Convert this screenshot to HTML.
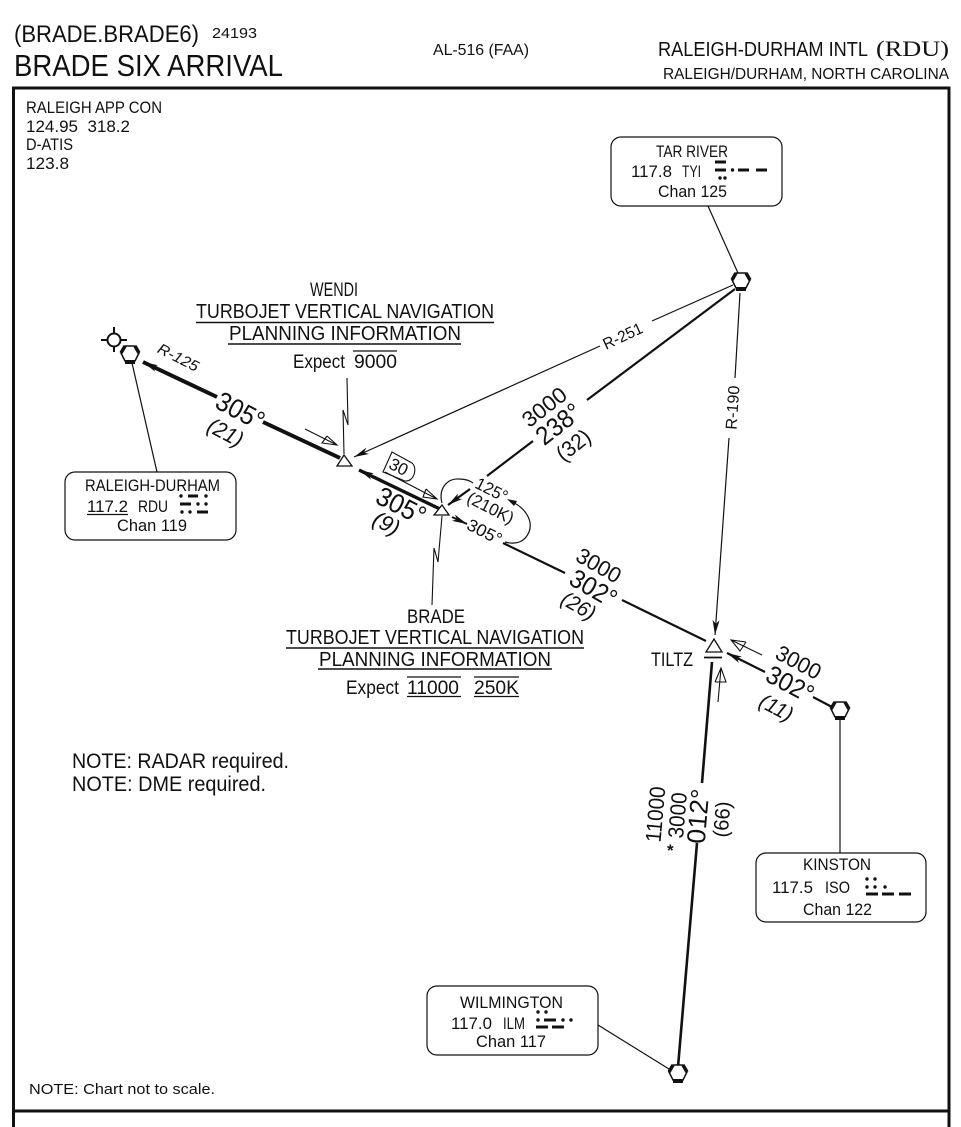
<!DOCTYPE html>
<html lang="en">
<head>
<meta charset="utf-8">
<title>BRADE SIX ARRIVAL</title>
<style>
html,body{margin:0;padding:0;background:#fff}
svg{display:block}
text{font-family:"Liberation Sans",sans-serif;fill:#111}
.l{stroke:#111;fill:none}
.m{text-anchor:middle}
</style>
</head>
<body>
<svg width="961" height="1127" viewBox="0 0 961 1127" xmlns="http://www.w3.org/2000/svg">
<defs>
<marker id="a" markerUnits="userSpaceOnUse" markerWidth="18" markerHeight="10" refX="15" refY="4" orient="auto">
<path d="M15,4 L0,0.5 L4,4 L0,7.5 Z" fill="#111"/>
</marker>
<g id="vor">
<path d="M-5,-8 L5,-8 L9,-1 L5,7 L-5,7 L-9,-1 Z" fill="#fff" stroke="#111" stroke-width="1.5"/>
<path d="M-5,-8 L-9,-1 M5,-8 L9,-1" stroke="#111" stroke-width="3.5" fill="none"/>
<path d="M-5,8 L5,8" stroke="#111" stroke-width="4" fill="none"/>
</g>
</defs>
<rect width="961" height="1127" fill="#fff"/>

<!-- Header -->
<text x="14" y="42" font-size="24" textLength="185" lengthAdjust="spacingAndGlyphs">(BRADE.BRADE6)</text>
<text x="212" y="38" font-size="15" textLength="45" lengthAdjust="spacingAndGlyphs">24193</text>
<text x="14" y="76" font-size="31" textLength="269" lengthAdjust="spacingAndGlyphs">BRADE SIX ARRIVAL</text>
<text x="433" y="55" font-size="16" textLength="96" lengthAdjust="spacingAndGlyphs">AL-516 (FAA)</text>
<text x="658" y="56" font-size="20" textLength="210" lengthAdjust="spacingAndGlyphs">RALEIGH-DURHAM INTL</text>
<text x="876" y="56" font-size="22" textLength="73" lengthAdjust="spacingAndGlyphs" style="font-family:'Liberation Serif',serif">(RDU)</text>
<text x="663" y="79" font-size="16" textLength="286" lengthAdjust="spacingAndGlyphs">RALEIGH/DURHAM, NORTH CAROLINA</text>

<!-- Frame -->
<path class="l" stroke-width="3" d="M13.5,1127 L13.5,88 L949,88 L949,1127"/>
<path class="l" stroke-width="3" d="M13,1111 L949,1111"/>

<!-- Frequencies -->
<text x="26" y="113" font-size="16.5" textLength="136" lengthAdjust="spacingAndGlyphs">RALEIGH APP CON</text>
<text x="26" y="132" font-size="16.5" textLength="104" lengthAdjust="spacingAndGlyphs" xml:space="preserve">124.95  318.2</text>
<text x="26" y="150" font-size="16.5" textLength="47" lengthAdjust="spacingAndGlyphs">D-ATIS</text>
<text x="26" y="169" font-size="16.5" textLength="43" lengthAdjust="spacingAndGlyphs">123.8</text>

<!-- Leaders -->
<path class="l" stroke-width="1.2" d="M708,206 L738,273"/>
<path class="l" stroke-width="1.2" d="M132,363 L157,472"/>
<path class="l" stroke-width="1.2" d="M840,718 L840,853"/>
<path class="l" stroke-width="1.2" d="M598,1025 L669,1069"/>
<path class="l" stroke-width="1.1" d="M347,378 L348,425 L343,410 L344,454"/>
<path class="l" stroke-width="1.1" d="M442,516 L438,562 L434,548 L432,605"/>

<!-- Boxes -->
<rect x="611" y="137" width="171" height="69" rx="10" fill="#fff" stroke="#111" stroke-width="1.2"/>
<rect x="65" y="472" width="171" height="68" rx="10" fill="#fff" stroke="#111" stroke-width="1.2"/>
<rect x="756" y="853" width="170" height="69" rx="10" fill="#fff" stroke="#111" stroke-width="1.2"/>
<rect x="427" y="986" width="171" height="69" rx="10" fill="#fff" stroke="#111" stroke-width="1.2"/>

<!-- TAR RIVER -->
<text x="656" y="157" font-size="16.5" textLength="72" lengthAdjust="spacingAndGlyphs">TAR RIVER</text>
<text x="631" y="177" font-size="17" textLength="41" lengthAdjust="spacingAndGlyphs">117.8</text>
<text x="682" y="177" font-size="16.5" textLength="19" lengthAdjust="spacingAndGlyphs">TYI</text>
<path class="l" stroke-width="3" d="M715,162 H726 M715,170 H726 M738,170 H749 M756,170 H767"/>
<g fill="#111"><circle cx="732.5" cy="170" r="1.7"/><circle cx="720" cy="178" r="1.7"/><circle cx="725" cy="178" r="1.7"/></g>
<text x="658" y="197" font-size="17" textLength="69" lengthAdjust="spacingAndGlyphs">Chan 125</text>

<!-- RALEIGH-DURHAM -->
<text x="85" y="491" font-size="16.5" textLength="135" lengthAdjust="spacingAndGlyphs">RALEIGH-DURHAM</text>
<text x="87" y="512" font-size="17" textLength="41" lengthAdjust="spacingAndGlyphs">117.2</text>
<path class="l" stroke-width="1.2" d="M87,514.5 H128"/>
<text x="138" y="512" font-size="16.5" textLength="30" lengthAdjust="spacingAndGlyphs">RDU</text>
<path class="l" stroke-width="3" d="M188,496 H198 M180,504 H191 M197,512 H208"/>
<g fill="#111"><circle cx="181" cy="496" r="1.7"/><circle cx="206" cy="496" r="1.7"/><circle cx="198" cy="504" r="1.7"/><circle cx="206" cy="504" r="1.7"/><circle cx="182" cy="512" r="1.7"/><circle cx="190" cy="512" r="1.7"/></g>
<text x="117" y="531" font-size="17" textLength="70" lengthAdjust="spacingAndGlyphs">Chan 119</text>

<!-- KINSTON -->
<text x="803" y="870" font-size="16.5" textLength="68" lengthAdjust="spacingAndGlyphs">KINSTON</text>
<text x="772" y="893" font-size="17" textLength="41" lengthAdjust="spacingAndGlyphs">117.5</text>
<text x="825" y="893" font-size="16.5" textLength="25" lengthAdjust="spacingAndGlyphs">ISO</text>
<path class="l" stroke-width="3" d="M866,894 H878 M882,894 H894 M899,894 H911"/>
<g fill="#111"><circle cx="867" cy="879" r="1.7"/><circle cx="875" cy="879" r="1.7"/><circle cx="867" cy="887" r="1.7"/><circle cx="875" cy="887" r="1.7"/><circle cx="885" cy="887" r="1.7"/></g>
<text x="803" y="915" font-size="17" textLength="69" lengthAdjust="spacingAndGlyphs">Chan 122</text>

<!-- WILMINGTON -->
<text x="460" y="1008" font-size="16.5" textLength="103" lengthAdjust="spacingAndGlyphs">WILMINGTON</text>
<text x="451" y="1029" font-size="17" textLength="41" lengthAdjust="spacingAndGlyphs">117.0</text>
<text x="503" y="1029" font-size="16.5" textLength="22" lengthAdjust="spacingAndGlyphs">ILM</text>
<path class="l" stroke-width="3" d="M544,1020 H556 M536,1027 H548 M552,1027 H564"/>
<g fill="#111"><circle cx="538" cy="1012" r="1.7"/><circle cx="546" cy="1012" r="1.7"/><circle cx="538" cy="1020" r="1.7"/><circle cx="563" cy="1020" r="1.7"/><circle cx="571" cy="1020" r="1.7"/></g>
<text x="476" y="1047" font-size="17" textLength="70" lengthAdjust="spacingAndGlyphs">Chan 117</text>

<!-- Route lines -->
<path class="l" stroke-width="1.2" d="M733,285 L652,321"/>
<line class="l" stroke-width="1.2" x1="600" y1="346" x2="354" y2="457" marker-end="url(#a)"/>
<path class="l" stroke-width="1.2" d="M740,293 L735,378"/>
<line class="l" stroke-width="1.2" x1="729" y1="438" x2="715" y2="635" marker-end="url(#a)"/>
<path class="l" stroke-width="2.2" d="M735,289 L587,400"/>
<path class="l" stroke-width="2.2" d="M533,441 L487,476"/>
<line class="l" stroke-width="2.2" x1="470" y1="489" x2="448" y2="505" marker-end="url(#a)"/>
<line class="l" stroke-width="4" x1="217" y1="397" x2="143" y2="362" marker-end="url(#a)"/>
<path class="l" stroke-width="4" d="M263,422 L340,458"/>
<line class="l" stroke-width="3.4" x1="440" y1="509" x2="359" y2="470" marker-end="url(#a)"/>
<line class="l" stroke-width="2" x1="452" y1="517" x2="467" y2="524" marker-end="url(#a)"/>
<path class="l" stroke-width="2.2" d="M503,543 L565,573 M622,600 L706,641"/>
<line class="l" stroke-width="2.2" x1="765" y1="672" x2="727" y2="653" marker-end="url(#a)"/>
<path class="l" stroke-width="2.2" d="M813,697 L832,707"/>
<path class="l" stroke-width="2.6" d="M712,662 L702,783 M697,843 L678,1067"/>

<!-- Holding pattern -->
<path class="l" stroke-width="1.2" d="M442,503 C438,488 448,478 459,479 C464,479 469,480 473,483"/>
<path class="l" stroke-width="1.2" d="M510,501 C527,508 533,522 529,532 C525,542 516,545 505,542"/>
<path d="M507,499 L517,501 L514,506 Z" fill="#111"/>

<!-- Open course arrows -->
<path class="l" stroke-width="1.1" d="M305,429 L337,445 M327,436 L337,445 L322,443 L327,436"/>
<path class="l" stroke-width="1.1" d="M385,472 L437,499 M426,489 L437,499 L423,497 L426,489"/>
<path class="l" stroke-width="1.1" d="M762,655 L731,640 M746,642 L731,640 L740,651 L746,642"/>
<path class="l" stroke-width="1.1" d="M718,702 L721,668 M715,682 L721,668 L726,682 L715,682"/>

<!-- MEA box 30 -->
<path class="l" stroke-width="1.1" d="M392,452 L383,472 L405,481 C414,482 418,468 412,463 Z"/>
<text class="m" transform="translate(396,472) rotate(27)" font-size="17">30</text>

<!-- Triangles -->
<path d="M344,455 L352,466 L337,466 Z" fill="#fff" stroke="#111" stroke-width="1.3"/>
<path d="M442,505 L449,515 L434,515 Z" fill="#fff" stroke="#111" stroke-width="1.3"/>
<path d="M714,639 L722,652 L706,652 Z" fill="#fff" stroke="#111" stroke-width="1.3"/>
<path class="l" stroke-width="1.8" d="M704,657.5 H722"/>

<!-- NAVAIDs -->
<use href="#vor" x="741" y="281"/>
<use href="#vor" x="130" y="354"/>
<use href="#vor" x="840" y="710"/>
<use href="#vor" x="678" y="1073"/>

<!-- Fix symbol -->
<circle cx="114" cy="340" r="6.5" fill="#fff" stroke="#111" stroke-width="2"/>
<path class="l" stroke-width="2" d="M114,327 V333.5 M114,346.5 V352 M101,340 H107.5 M120.5,340 H127"/>

<!-- Rotated labels -->
<text class="m" transform="translate(176,362) rotate(27)" font-size="15" font-style="italic" textLength="44" lengthAdjust="spacingAndGlyphs">R-125</text>
<text class="m" transform="translate(236,419) rotate(28)" font-size="27" textLength="51" lengthAdjust="spacingAndGlyphs">305°</text>
<text class="m" transform="translate(222,439) rotate(28)" font-size="22" font-style="italic" textLength="37" lengthAdjust="spacingAndGlyphs">(21)</text>
<text class="m" transform="translate(397,514) rotate(27)" font-size="27" textLength="52" lengthAdjust="spacingAndGlyphs">305°</text>
<text class="m" transform="translate(383,530) rotate(27)" font-size="22" font-style="italic">(9)</text>
<text class="m" transform="translate(625,341) rotate(-25)" font-size="16" textLength="42" lengthAdjust="spacingAndGlyphs">R-251</text>
<text class="m" transform="translate(738,408) rotate(-86)" font-size="16" textLength="44" lengthAdjust="spacingAndGlyphs">R-190</text>
<text class="m" transform="translate(549,413) rotate(-38)" font-size="22" textLength="50" lengthAdjust="spacingAndGlyphs">3000</text>
<text class="m" transform="translate(564,431) rotate(-38)" font-size="26" textLength="50" lengthAdjust="spacingAndGlyphs">238°</text>
<text class="m" transform="translate(578,451) rotate(-38)" font-size="22" textLength="37" lengthAdjust="spacingAndGlyphs">(32)</text>
<text class="m" transform="translate(489,495) rotate(27)" font-size="17" textLength="34" lengthAdjust="spacingAndGlyphs">125°</text>
<text class="m" transform="translate(488,513) rotate(27)" font-size="17" textLength="50" lengthAdjust="spacingAndGlyphs">(210K)</text>
<text class="m" transform="translate(482,537) rotate(27)" font-size="17" textLength="37" lengthAdjust="spacingAndGlyphs">305°</text>
<text class="m" transform="translate(595,572) rotate(30)" font-size="22" textLength="48" lengthAdjust="spacingAndGlyphs">3000</text>
<text class="m" transform="translate(589,596) rotate(30)" font-size="26" textLength="50" lengthAdjust="spacingAndGlyphs">302°</text>
<text class="m" transform="translate(575,612) rotate(30)" font-size="21" font-style="italic" textLength="36" lengthAdjust="spacingAndGlyphs">(26)</text>
<text class="m" transform="translate(795,669) rotate(28)" font-size="22" textLength="48" lengthAdjust="spacingAndGlyphs">3000</text>
<text class="m" transform="translate(786,692) rotate(28)" font-size="26" textLength="50" lengthAdjust="spacingAndGlyphs">302°</text>
<text class="m" transform="translate(773,714) rotate(28)" font-size="21" font-style="italic" textLength="35" lengthAdjust="spacingAndGlyphs">(11)</text>
<text class="m" transform="translate(663,815) rotate(-85)" font-size="22" textLength="56" lengthAdjust="spacingAndGlyphs">11000</text>
<text class="m" transform="translate(685,816) rotate(-85)" font-size="22" textLength="46" lengthAdjust="spacingAndGlyphs">3000</text>
<text class="m" transform="translate(707,817) rotate(-85)" font-size="26" textLength="55" lengthAdjust="spacingAndGlyphs">012°</text>
<text class="m" transform="translate(729,820) rotate(-85)" font-size="21" textLength="36" lengthAdjust="spacingAndGlyphs">(66)</text>
<text x="667" y="856" font-size="17" font-weight="bold">*</text>

<!-- WENDI -->
<text x="310" y="296" font-size="19.5" textLength="48" lengthAdjust="spacingAndGlyphs">WENDI</text>
<text x="196" y="318" font-size="20" textLength="298" lengthAdjust="spacingAndGlyphs">TURBOJET VERTICAL NAVIGATION</text>
<path class="l" stroke-width="1.4" d="M196,322.5 H494"/>
<text x="229" y="340" font-size="20" textLength="232" lengthAdjust="spacingAndGlyphs">PLANNING INFORMATION</text>
<path class="l" stroke-width="1.4" d="M228,344 H461"/>
<text x="293" y="368" font-size="19" textLength="52" lengthAdjust="spacingAndGlyphs">Expect</text>
<text x="354" y="368" font-size="19" textLength="43" lengthAdjust="spacingAndGlyphs">9000</text>
<path class="l" stroke-width="1.2" d="M353,351 H397"/>

<!-- BRADE -->
<text x="407" y="623" font-size="19.5" textLength="58" lengthAdjust="spacingAndGlyphs">BRADE</text>
<text x="286" y="644" font-size="20" textLength="298" lengthAdjust="spacingAndGlyphs">TURBOJET VERTICAL NAVIGATION</text>
<path class="l" stroke-width="1.4" d="M286,648 H584"/>
<text x="319" y="666" font-size="20" textLength="232" lengthAdjust="spacingAndGlyphs">PLANNING INFORMATION</text>
<path class="l" stroke-width="1.4" d="M318,669 H552"/>
<text x="346" y="694" font-size="19" textLength="53" lengthAdjust="spacingAndGlyphs">Expect</text>
<text x="407" y="694" font-size="19" textLength="52" lengthAdjust="spacingAndGlyphs">11000</text>
<text x="474" y="694" font-size="19" textLength="45" lengthAdjust="spacingAndGlyphs">250K</text>
<path class="l" stroke-width="1.2" d="M407,677 H461 M407,696.5 H461 M474,677 H519 M474,696.5 H519"/>

<text x="651" y="666" font-size="19" textLength="42" lengthAdjust="spacingAndGlyphs">TILTZ</text>

<!-- Notes -->
<text x="72" y="768" font-size="21" textLength="217" lengthAdjust="spacingAndGlyphs">NOTE: RADAR required.</text>
<text x="72" y="791" font-size="21" textLength="194" lengthAdjust="spacingAndGlyphs">NOTE: DME required.</text>
<text x="29" y="1094" font-size="15" textLength="186" lengthAdjust="spacingAndGlyphs">NOTE: Chart not to scale.</text>
</svg>
</body>
</html>
